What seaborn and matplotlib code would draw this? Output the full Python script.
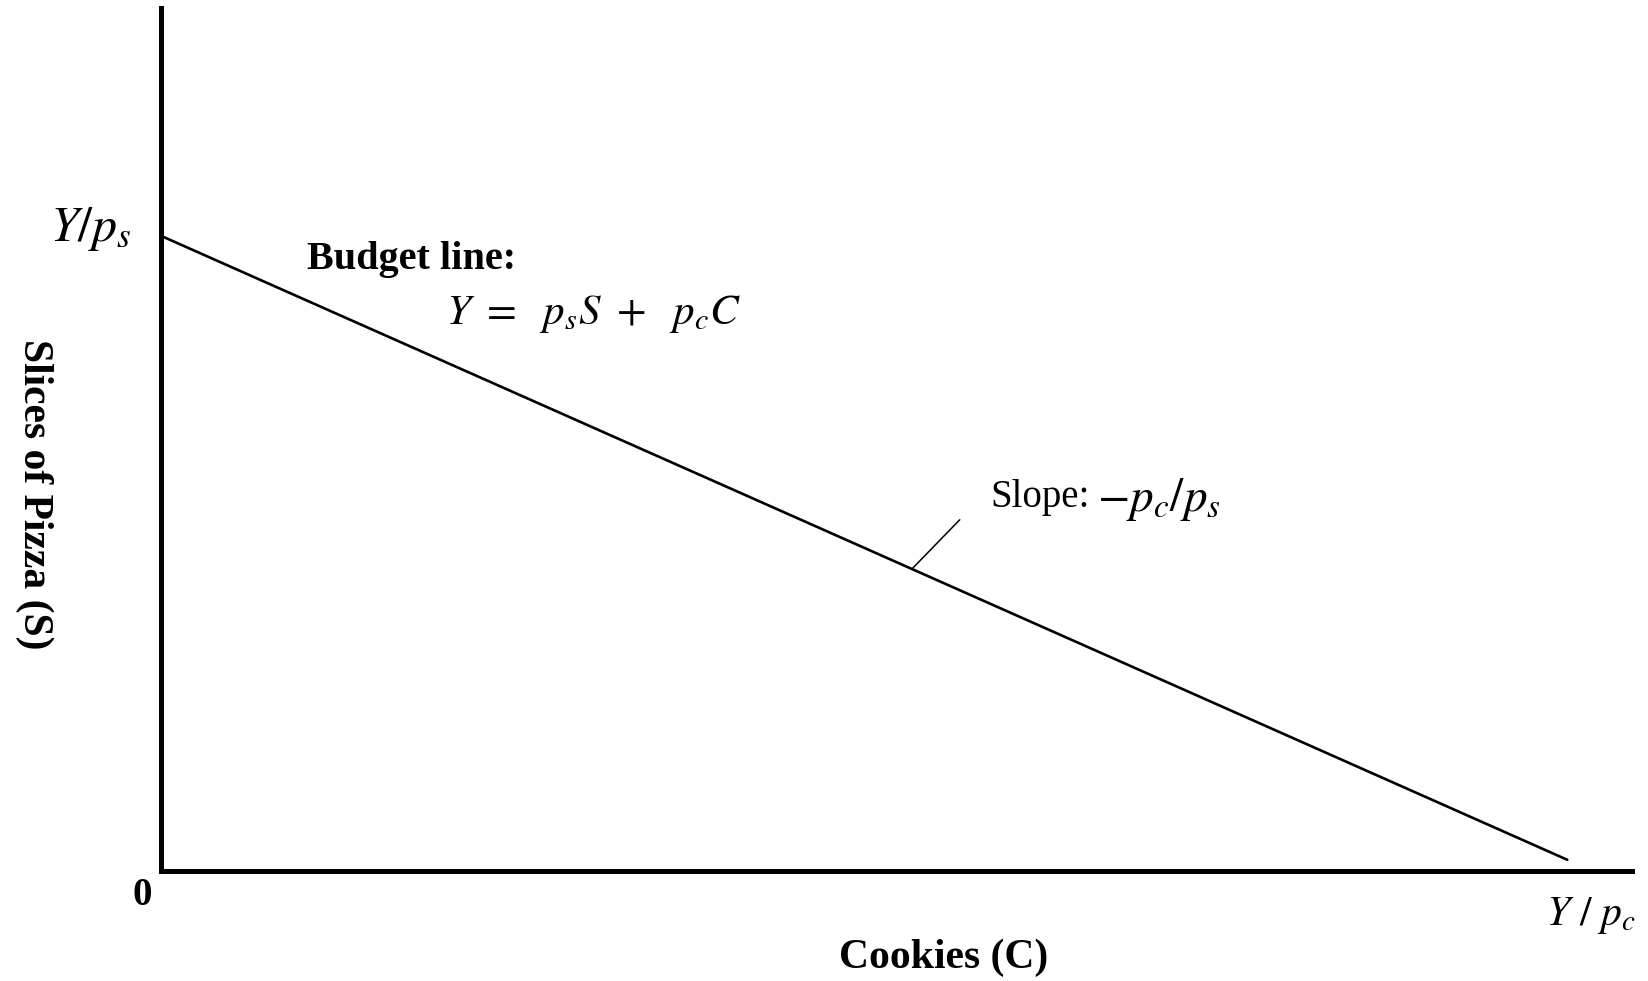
import matplotlib
matplotlib.use("Agg")
import matplotlib.pyplot as plt
import seaborn as sns
import pandas as pd

# budget line end points (data units, axes run 0..100)
cookies = [0.0, 95.6]
pizza = [73.6, 1.3]

# pointer from the line to the slope note
pointer_x = [51.05, 54.3]
pointer_y = [35.0, 40.7]

budget_title = "Budget line:"
budget_formula = r"$Y\ =\ \ p_sS\ +\ \ p_cC$"
slope_word = "Slope:"
slope_math = r"$-p_c/p_s$"
y_intercept = r"$Y/p_s$"
x_intercept = r"$Y\ /\ p_c$"
x_title = "Cookies (C)"
y_title = "Slices of Pizza (S)"

sns.set_theme(style="white")
plt.rcParams["font.family"] = ["Liberation Serif", "DejaVu Serif"]
plt.rcParams["mathtext.fontset"] = "stix"
plt.rcParams["text.color"] = "black"
plt.rcParams["axes.labelcolor"] = "black"

fig = plt.figure(figsize=(16.49, 9.81), dpi=100)
ax = fig.add_axes([161 / 1649, 110 / 981, 1471 / 1649, 863 / 981])

df = pd.DataFrame({"C": cookies, "S": pizza})
sns.lineplot(data=df, x="C", y="S", color="black", linewidth=1.9, ax=ax)
ax.plot(pointer_x, pointer_y, color="black", linewidth=1.1)

ax.set_xlim(0, 100)
ax.set_ylim(0, 100)
ax.set_xticks([])
ax.set_yticks([])
for side in ["top", "right"]:
    ax.spines[side].set_visible(False)
for side in ["left", "bottom"]:
    ax.spines[side].set_color("black")
    ax.spines[side].set_linewidth(3.6)

ax.set_xlabel(x_title, fontsize=30, fontweight="bold")
ax.set_ylabel(y_title, fontsize=30, fontweight="bold", rotation=270)
ax.xaxis.label.set_va("center")
ax.yaxis.label.set_va("center")
ax.xaxis.set_label_coords(0.532, -0.10)
ax.yaxis.set_label_coords(-0.086, 0.437)

ax.text(9.9, 70.8, budget_title, fontsize=29, fontweight="bold", ha="left", va="center")
ax.text(19.4, 64.6, budget_formula, fontsize=31, ha="left", va="center")
ax.text(56.4, 43.3, slope_word, fontsize=28, ha="left", va="center")
ax.text(63.6, 43.0, slope_math, fontsize=34, ha="left", va="center")

ax.text(-2.0, 74.4, y_intercept, fontsize=36, ha="right", va="center", clip_on=False)
ax.text(-1.3, -2.8, "0", fontsize=28, fontweight="bold", ha="center", va="center", clip_on=False)
ax.text(97.2, -5.1, x_intercept, fontsize=30, ha="center", va="center", clip_on=False)

fig.savefig("out.png", dpi=100)
